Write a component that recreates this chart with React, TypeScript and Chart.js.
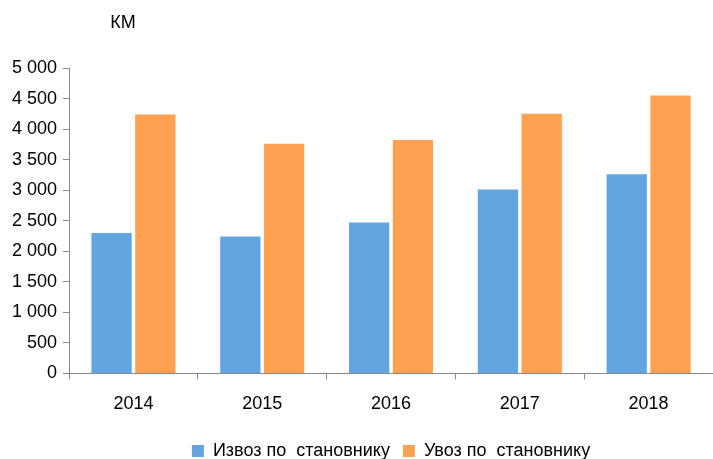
import React, { useEffect, useRef } from "react";
import { Chart, registerables } from "chart.js";

Chart.register(...registerables);

const categories = ["2014", "2015", "2016", "2017", "2018"];
const exportPerCapita = [2300, 2240, 2470, 3010, 3260];
const importPerCapita = [4240, 3760, 3820, 4250, 4550];
const seriesNames = ["Извоз по  становнику", "Увоз по  становнику"];
const unitLabel = "КМ";

const FONT = "'Liberation Sans', Arial, sans-serif";

export default function App() {
  const ref = useRef<HTMLCanvasElement | null>(null);
  useEffect(() => {
    document.body.style.margin = "0";
    const unitPlugin = {
      id: "unitLabel",
      afterDraw(chart: any) {
        const ctx = chart.ctx;
        ctx.save();
        ctx.font = `18px ${FONT}`;
        ctx.fillStyle = "#000";
        ctx.textAlign = "center";
        ctx.textBaseline = "middle";
        ctx.fillText(unitLabel, 123, 23);
        ctx.restore();
      },
    };
    const chart = new Chart(ref.current!, {
      type: "bar",
      data: {
        labels: categories,
        datasets: [
          {
            label: seriesNames[0],
            data: exportPerCapita,
            backgroundColor: "rgb(99,165,224)",
            categoryPercentage: 0.68,
            barPercentage: 0.92,
          },
          {
            label: seriesNames[1],
            data: importPerCapita,
            backgroundColor: "rgb(255,161,80)",
            categoryPercentage: 0.68,
            barPercentage: 0.92,
          },
        ],
      },
      options: {
        animation: false,
        responsive: false,
        layout: { padding: { top: 68, right: 0, left: 6, bottom: -11 } },
        plugins: {
          legend: {
            position: "bottom",
            fullSize: false,
            labels: {
              boxWidth: 12,
              boxHeight: 12,
              padding: 13,
              color: "#000",
              font: { family: FONT, size: 18 },
            },
          },
          tooltip: { enabled: false },
        },
        scales: {
          x: {
            grid: {
              display: true,
              drawOnChartArea: false,
              drawTicks: true,
              tickLength: 6,
              color: "#888",
              offset: true,
            },
            border: { display: true, color: "#888" },
            ticks: {
              color: "#000",
              font: { family: FONT, size: 18 },
              padding: 14,
            },
          },
          y: {
            min: 0,
            max: 5000,
            grid: {
              display: true,
              drawOnChartArea: false,
              drawTicks: true,
              tickLength: 6,
              color: "#888",
            },
            border: { display: true, color: "#888" },
            ticks: {
              stepSize: 500,
              color: "#000",
              font: { family: FONT, size: 18 },
              padding: 6,
              callback: (v: any) =>
                String(v).replace(/\B(?=(\d{3})+(?!\d))/g, " "),
            },
          },
        },
      },
      plugins: [unitPlugin],
    });
    return () => chart.destroy();
  }, []);
  return <canvas ref={ref} width={713} height={459} style={{ display: "block" }} />;
}
